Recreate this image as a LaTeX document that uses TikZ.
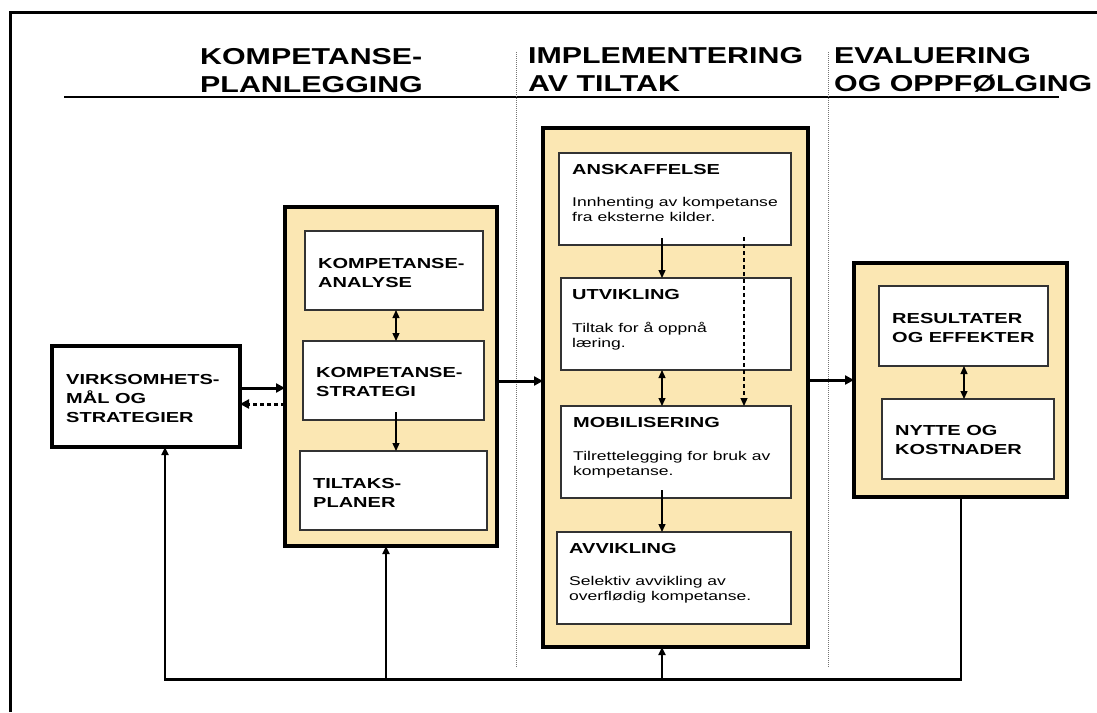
\documentclass[tikz,border=0pt]{standalone}
\usepackage{fontspec}
\setmainfont{Liberation Sans}
\newfontfamily\widefont[FakeStretch=1.38]{Liberation Sans}
\newfontfamily\headfont[FakeStretch=1.32]{Liberation Sans}
\usetikzlibrary{arrows.meta}
\definecolor{panelfill}{RGB}{251,231,179}
\tikzset{
  panel/.style={draw=black, line width=4pt, fill=panelfill, inner sep=0pt, outer sep=0pt},
  obox/.style={draw=black, line width=4pt, fill=white, inner sep=0pt, outer sep=0pt},
  ibox/.style={draw=black!80, line width=1.4pt, fill=white, inner sep=0pt, outer sep=0pt},
  ttl/.style={font=\widefont\bfseries\fontsize{14.5}{19}\selectfont, align=left, anchor=north west, inner sep=0pt},
  ttlone/.style={font=\widefont\bfseries\fontsize{14.5}{19}\selectfont, anchor=base west, inner sep=0pt},
  bdy/.style={font=\widefont\fontsize{12.7}{15.5}\selectfont, align=left, anchor=north west, inner sep=0pt},
  hdr/.style={font=\headfont\bfseries\fontsize{23}{28}\selectfont, align=left, anchor=north west, inner sep=0pt},
  thinarrow/.style={line width=1.3pt, -{Triangle[length=8pt,width=7pt]}},
  dblarrow/.style={line width=1.3pt, {Triangle[length=8pt,width=7pt]}-{Triangle[length=8pt,width=7pt]}},
  bigarrow/.style={line width=3pt, -{Triangle[length=9pt,width=9pt]}},
  dotarrow/.style={line width=3pt, dash pattern=on 4pt off 3pt, -{Triangle[length=9pt,width=9pt]}},
  dasharrow/.style={line width=1.2pt, dash pattern=on 4pt off 3pt, -{Triangle[length=8pt,width=7pt]}},
  uparrow/.style={line width=2pt, -{Triangle[length=8pt,width=7pt]}},
  fbline/.style={line width=3pt},
  sepline/.style={line width=0.7pt, black!55, dash pattern=on 1pt off 1pt},
}
\begin{document}
\begin{tikzpicture}[x=1pt,y=-1pt]
\useasboundingbox (0,0) rectangle (1097,712);
% outer frame
\draw[line width=3pt] (10,712) -- (10,12) -- (1097,12);
% header rule and separators
\draw[line width=1.3pt] (64,97) -- (1059,97);
\draw[sepline] (516,52) -- (516,668);
\draw[sepline] (828,52) -- (828,668);
% headers
\node[hdr] (h1) at (200,47) {\rule{0pt}{17pt}KOMPETANSE-\\PLANLEGGING};
\node[hdr] (h2) at (528,46) {\rule{0pt}{17pt}IMPLEMENTERING\\AV TILTAK};
\node[hdr] (h3) at (834,46) {\rule{0pt}{17pt}EVALUERING\\OG OPPFØLGING};

% panels
\node[panel, minimum width=212pt, minimum height=339pt] (lp) at (391,376.5) {};
\node[panel, minimum width=265pt, minimum height=519pt] (mp) at (675.5,387.5) {};
\node[panel, minimum width=213pt, minimum height=234pt] (rp) at (960.5,380) {};

% left outer box
\node[obox, minimum width=188pt, minimum height=101pt] (virk) at (146,396.5) {};
\node[ttl] (virkt) at (66,372) {\rule{0pt}{12pt}VIRKSOMHETS-\\MÅL OG\\STRATEGIER};

% left panel boxes
\node[ibox, minimum width=178pt, minimum height=79pt] (ana) at (394,270.5) {};
\node[ttl] (anat) at (318,256) {\rule{0pt}{12pt}KOMPETANSE-\\ANALYSE};
\node[ibox, minimum width=181pt, minimum height=79pt] (str) at (393.5,380.5) {};
\node[ttl] (strt) at (316,365) {\rule{0pt}{12pt}KOMPETANSE-\\STRATEGI};
\node[ibox, minimum width=187pt, minimum height=79pt] (til) at (393.5,490.5) {};
\node[ttl] (tilt) at (313,476) {\rule{0pt}{12pt}TILTAKS-\\PLANER};

% middle panel boxes
\node[ibox, minimum width=232pt, minimum height=92pt] (ans) at (675,199) {};
\node[ttlone] (anst) at (572,174) {ANSKAFFELSE};
\node[bdy] (ansb) at (572,196) {\rule{0pt}{10pt}Innhenting av kompetanse\\fra eksterne kilder.};
\node[ibox, minimum width=230pt, minimum height=92pt] (utv) at (676,324) {};
\node[ttlone] (utvt) at (572,299) {UTVIKLING};
\node[bdy] (utvb) at (572,322) {\rule{0pt}{10pt}Tiltak for å oppnå\\læring.};
\node[ibox, minimum width=230pt, minimum height=92pt] (mob) at (676,452) {};
\node[ttlone] (mobt) at (573,427) {MOBILISERING};
\node[bdy] (mobb) at (573,450) {\rule{0pt}{10pt}Tilrettelegging for bruk av\\kompetanse.};
\node[ibox, minimum width=234pt, minimum height=92pt] (avv) at (674,578) {};
\node[ttlone] (avvt) at (569,553) {AVVIKLING};
\node[bdy] (avvb) at (569,575) {\rule{0pt}{10pt}Selektiv avvikling av\\overflødig kompetanse.};

% right panel boxes
\node[ibox, minimum width=169pt, minimum height=80pt] (res) at (963.5,326) {};
\node[ttl] (rest) at (892,311) {\rule{0pt}{12pt}RESULTATER\\OG EFFEKTER};
\node[ibox, minimum width=172pt, minimum height=80pt] (nyt) at (968,439) {};
\node[ttl] (nytt) at (895,423) {\rule{0pt}{12pt}NYTTE OG\\KOSTNADER};

% main flow arrows
\draw[bigarrow] ([yshift=8.5pt]virk.east) -- ([yshift=8.5pt]virk.east -| lp.west);
\draw[dotarrow] ([yshift=-7.5pt]virk.east -| lp.west) -- ([yshift=-7.5pt]virk.east);
\draw[bigarrow] ([yshift=-4.5pt]lp.east) -- ([yshift=-4.5pt]lp.east -| mp.west);
\draw[bigarrow] ([yshift=7.5pt]mp.east) -- ([yshift=7.5pt]mp.east -| rp.west);

% left panel internal
\draw[dblarrow] ([xshift=2pt]ana.south) -- ([xshift=2pt]ana.south |- str.north);
\draw[thinarrow] ([xshift=2.5pt,yshift=8pt]str.south) -- ([xshift=2.5pt]str.south |- til.north);

% middle panel internal
\draw[thinarrow] ([xshift=-13pt,yshift=7pt]ans.south) -- ([xshift=-13pt]ans.south |- utv.north);
\draw[dasharrow] ([xshift=69pt,yshift=8pt]ans.south) -- ([xshift=69pt]ans.south |- mob.north);
\draw[dblarrow] ([xshift=-14pt]utv.south) -- ([xshift=-14pt]utv.south |- mob.north);
\draw[thinarrow] ([xshift=-14pt,yshift=8pt]mob.south) -- ([xshift=-14pt]mob.south |- avv.north);

% right panel internal
\draw[dblarrow] ([xshift=0.5pt]res.south) -- ([xshift=0.5pt]res.south |- nyt.north);

% feedback loop
\coordinate (fbr) at (961,679);
\coordinate (fbl) at (165,679);
\coordinate (fb1) at (386,679);
\coordinate (fb2) at (662,679);
\draw[line width=1.5pt] (fbr |- rp.south) -- (fbr);
\draw[fbline] ([xshift=0.75pt]fbr) -- ([xshift=-1pt]fbl);
\draw[uparrow] ([yshift=1pt]fbl) -- (fbl |- virk.south);
\draw[uparrow] (fb1) -- (fb1 |- lp.south);
\draw[uparrow] (fb2) -- (fb2 |- mp.south);
\end{tikzpicture}
\end{document}
